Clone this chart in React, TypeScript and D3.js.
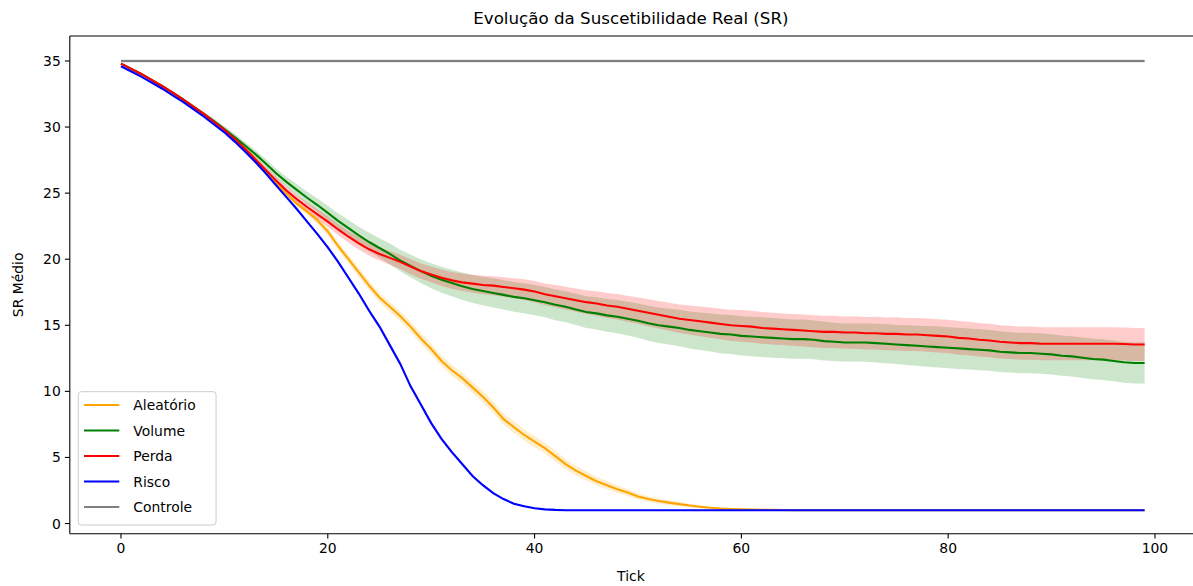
import React from 'react'
import * as d3 from 'd3'

// tick labels
const ticksX = [0, 20, 40, 60, 80, 100]
const ticksY = [0, 5, 10, 15, 20, 25, 30, 35]

const seriesNames = ['Aleatório', 'Volume', 'Perda', 'Risco', 'Controle']
const seriesColors = ['orange', 'green', 'red', 'blue', 'gray']

// mean SR per tick (0..99)
const aleatorio = [
  34.8, 34.4, 34.0, 33.55, 33.1, 32.6, 32.1, 31.55, 31.0, 30.4,
  29.8, 29.1, 28.35, 27.55, 26.7, 25.8, 24.95, 24.2, 23.6, 22.95,
  22.1, 21.0, 20.0, 19.0, 18.0, 17.1, 16.4, 15.7, 14.9, 14.0,
  13.2, 12.3, 11.6, 11.0, 10.3, 9.6, 8.8, 7.9, 7.3, 6.7,
  6.2, 5.7, 5.1, 4.5, 4.0, 3.6, 3.2, 2.9, 2.6, 2.35,
  2.05, 1.85, 1.7, 1.58, 1.47, 1.36, 1.27, 1.19, 1.13, 1.1,
  1.07, 1.05, 1.04, 1.03, 1.02, 1.01, 1.0, 1.0, 1.0, 1.0,
  1.0, 1.0, 1.0, 1.0, 1.0, 1.0, 1.0, 1.0, 1.0, 1.0,
  1.0, 1.0, 1.0, 1.0, 1.0, 1.0, 1.0, 1.0, 1.0, 1.0,
  1.0, 1.0, 1.0, 1.0, 1.0, 1.0, 1.0, 1.0, 1.0, 1.0,
]
const volume = [
  34.8, 34.4, 34.0, 33.55, 33.1, 32.6, 32.1, 31.55, 31.0, 30.45,
  29.85, 29.25, 28.6, 27.95, 27.25, 26.5, 25.85, 25.25, 24.65, 24.1,
  23.5, 22.9, 22.35, 21.8, 21.3, 20.85, 20.4, 19.9, 19.5, 19.1,
  18.75, 18.45, 18.2, 17.95, 17.75, 17.6, 17.45, 17.3, 17.15, 17.05,
  16.9, 16.75, 16.55, 16.4, 16.2, 16.0, 15.9, 15.75, 15.65, 15.5,
  15.35, 15.15, 15.0, 14.9, 14.8, 14.65, 14.55, 14.45, 14.35, 14.3,
  14.2, 14.15, 14.1, 14.05, 14.0, 13.95, 13.95, 13.9, 13.8, 13.75,
  13.7, 13.7, 13.7, 13.65, 13.6, 13.55, 13.5, 13.45, 13.4, 13.35,
  13.3, 13.25, 13.2, 13.15, 13.1, 13.0, 12.95, 12.9, 12.9, 12.85,
  12.8, 12.7, 12.65, 12.55, 12.45, 12.4, 12.3, 12.2, 12.15, 12.15,
]
const perda = [
  34.8, 34.4, 34.0, 33.55, 33.1, 32.6, 32.1, 31.55, 31.0, 30.4,
  29.8, 29.1, 28.35, 27.55, 26.75, 25.95, 25.2, 24.55, 23.95, 23.4,
  22.85, 22.25, 21.7, 21.2, 20.75, 20.4, 20.1, 19.8, 19.45, 19.1,
  18.85, 18.6, 18.4, 18.25, 18.15, 18.05, 18.0, 17.9, 17.8, 17.7,
  17.55, 17.35, 17.2, 17.05, 16.9, 16.75, 16.65, 16.5, 16.4, 16.25,
  16.1, 15.95, 15.8, 15.65, 15.5, 15.4, 15.3, 15.2, 15.1, 15.0,
  14.95, 14.9, 14.8, 14.75, 14.7, 14.65, 14.6, 14.55, 14.5, 14.5,
  14.45, 14.45, 14.4, 14.4, 14.35, 14.35, 14.3, 14.3, 14.25, 14.2,
  14.15, 14.05, 14.0, 13.9, 13.85, 13.75, 13.7, 13.65, 13.65, 13.6,
  13.6, 13.6, 13.6, 13.6, 13.6, 13.6, 13.6, 13.58, 13.55, 13.55,
]
const risco = [
  34.6, 34.2, 33.8, 33.35, 32.9, 32.4, 31.9, 31.35, 30.8, 30.2,
  29.6, 28.9, 28.15, 27.35, 26.5, 25.6, 24.7, 23.8, 22.85, 21.9,
  20.9, 19.8, 18.6, 17.4, 16.1, 14.9, 13.5, 12.1, 10.4, 9.0,
  7.6, 6.4, 5.4, 4.5, 3.6, 2.9, 2.3, 1.85, 1.5, 1.3,
  1.15, 1.07, 1.03, 1.01, 1.0, 1.0, 1.0, 1.0, 1.0, 1.0,
  1.0, 1.0, 1.0, 1.0, 1.0, 1.0, 1.0, 1.0, 1.0, 1.0,
  1.0, 1.0, 1.0, 1.0, 1.0, 1.0, 1.0, 1.0, 1.0, 1.0,
  1.0, 1.0, 1.0, 1.0, 1.0, 1.0, 1.0, 1.0, 1.0, 1.0,
  1.0, 1.0, 1.0, 1.0, 1.0, 1.0, 1.0, 1.0, 1.0, 1.0,
  1.0, 1.0, 1.0, 1.0, 1.0, 1.0, 1.0, 1.0, 1.0, 1.0,
]
const controle = [
  35, 35, 35, 35, 35, 35, 35, 35, 35, 35,
  35, 35, 35, 35, 35, 35, 35, 35, 35, 35,
  35, 35, 35, 35, 35, 35, 35, 35, 35, 35,
  35, 35, 35, 35, 35, 35, 35, 35, 35, 35,
  35, 35, 35, 35, 35, 35, 35, 35, 35, 35,
  35, 35, 35, 35, 35, 35, 35, 35, 35, 35,
  35, 35, 35, 35, 35, 35, 35, 35, 35, 35,
  35, 35, 35, 35, 35, 35, 35, 35, 35, 35,
  35, 35, 35, 35, 35, 35, 35, 35, 35, 35,
  35, 35, 35, 35, 35, 35, 35, 35, 35, 35,
]

// half width of the shaded band per tick
const aleatorioSd = [
  0.02, 0.03, 0.04, 0.05, 0.06, 0.07, 0.08, 0.09, 0.1, 0.11,
  0.12, 0.13, 0.14, 0.16, 0.18, 0.2, 0.22, 0.24, 0.26, 0.28,
  0.3, 0.32, 0.33, 0.34, 0.35, 0.36, 0.37, 0.38, 0.38, 0.39,
  0.4, 0.4, 0.41, 0.41, 0.42, 0.42, 0.43, 0.43, 0.43, 0.42,
  0.42, 0.41, 0.4, 0.39, 0.37, 0.35, 0.33, 0.31, 0.29, 0.27,
  0.25, 0.22, 0.2, 0.18, 0.16, 0.14, 0.12, 0.1, 0.08, 0.07,
  0.06, 0.05, 0.04, 0.03, 0.03, 0.02, 0.02, 0.01, 0.01, 0.01,
  0.01, 0.01, 0.01, 0.01, 0.01, 0.01, 0.01, 0.01, 0.01, 0.01,
  0.01, 0.01, 0.01, 0.01, 0.01, 0.01, 0.01, 0.01, 0.01, 0.01,
  0.01, 0.01, 0.01, 0.01, 0.01, 0.01, 0.01, 0.01, 0.01, 0.01,
]
const volumeSd = [
  0.02, 0.03, 0.04, 0.05, 0.06, 0.08, 0.1, 0.12, 0.15, 0.18,
  0.21, 0.24, 0.27, 0.3, 0.33, 0.36, 0.39, 0.42, 0.46, 0.5,
  0.54, 0.58, 0.62, 0.66, 0.7, 0.74, 0.78, 0.82, 0.86, 0.9,
  0.94, 0.98, 1.01, 1.04, 1.06, 1.08, 1.1, 1.11, 1.12, 1.13,
  1.14, 1.15, 1.16, 1.17, 1.18, 1.2, 1.22, 1.24, 1.26, 1.28,
  1.3, 1.32, 1.34, 1.36, 1.38, 1.4, 1.42, 1.44, 1.46, 1.48,
  1.48, 1.49, 1.5, 1.5, 1.5, 1.49, 1.48, 1.47, 1.46, 1.45,
  1.44, 1.44, 1.45, 1.46, 1.47, 1.48, 1.5, 1.52, 1.54, 1.55,
  1.56, 1.56, 1.55, 1.55, 1.54, 1.54, 1.53, 1.53, 1.52, 1.52,
  1.52, 1.52, 1.53, 1.53, 1.53, 1.54, 1.54, 1.55, 1.55, 1.56,
]
const perdaSd = [
  0.02, 0.03, 0.04, 0.05, 0.06, 0.07, 0.08, 0.1, 0.12, 0.14,
  0.16, 0.18, 0.2, 0.22, 0.25, 0.28, 0.3, 0.33, 0.36, 0.38,
  0.4, 0.42, 0.44, 0.46, 0.48, 0.5, 0.52, 0.54, 0.56, 0.58,
  0.6, 0.62, 0.64, 0.66, 0.68, 0.7, 0.72, 0.74, 0.76, 0.78,
  0.8, 0.82, 0.84, 0.86, 0.88, 0.9, 0.92, 0.94, 0.96, 0.98,
  1.0, 1.02, 1.04, 1.06, 1.08, 1.1, 1.12, 1.14, 1.16, 1.18,
  1.2, 1.2, 1.2, 1.2, 1.2, 1.2, 1.21, 1.21, 1.22, 1.22,
  1.22, 1.23, 1.23, 1.24, 1.24, 1.25, 1.25, 1.25, 1.26, 1.26,
  1.27, 1.27, 1.27, 1.27, 1.26, 1.26, 1.26, 1.25, 1.25, 1.25,
  1.25, 1.25, 1.25, 1.25, 1.25, 1.25, 1.25, 1.25, 1.25, 1.25,
]
const riscoSd = [
  0.03, 0.03, 0.04, 0.04, 0.05, 0.05, 0.06, 0.06, 0.07, 0.07,
  0.08, 0.08, 0.09, 0.09, 0.1, 0.1, 0.11, 0.11, 0.12, 0.12,
  0.13, 0.13, 0.14, 0.14, 0.15, 0.15, 0.15, 0.15, 0.15, 0.14,
  0.14, 0.13, 0.12, 0.11, 0.1, 0.09, 0.08, 0.07, 0.06, 0.05,
  0.04, 0.03, 0.02, 0.02, 0.01, 0.01, 0.01, 0.01, 0.01, 0.01,
  0.01, 0.01, 0.01, 0.01, 0.01, 0.01, 0.01, 0.01, 0.01, 0.01,
  0.01, 0.01, 0.01, 0.01, 0.01, 0.01, 0.01, 0.01, 0.01, 0.01,
  0.01, 0.01, 0.01, 0.01, 0.01, 0.01, 0.01, 0.01, 0.01, 0.01,
  0.01, 0.01, 0.01, 0.01, 0.01, 0.01, 0.01, 0.01, 0.01, 0.01,
  0.01, 0.01, 0.01, 0.01, 0.01, 0.01, 0.01, 0.01, 0.01, 0.01,
]
const controleSd = controle.map(() => 0.13)

const seriesMeans = [aleatorio, volume, perda, risco, controle]
const seriesSds = [aleatorioSd, volumeSd, perdaSd, riscoSd, controleSd]

const FONT = 'DejaVu Sans, sans-serif'

export default function App() {
  const W = 1193
  const H = 586
  const left = 69.8, right = 1195.8, top = 36, bottom = 533.7

  const x = d3.scaleLinear().domain([-4.95, 103.95]).range([left, right])
  const y = d3.scaleLinear().domain([-0.77, 36.89]).range([bottom, top])

  const line = d3.line<number>().x((d, i) => x(i)).y(d => y(d))

  // bands sit under every line, like matplotlib's default zorder
  return (
    <svg width={W} height={H} style={{ position: 'absolute', left: 0, top: 0, background: '#fff' }}
      fontFamily={FONT}>
      <defs>
        <clipPath id="plot">
          <rect x={left} y={top} width={right - left} height={bottom - top} />
        </clipPath>
      </defs>

      <g clipPath="url(#plot)">
        {seriesMeans.map((m, k) => {
          const sd = seriesSds[k]
          const band = d3.area<number>()
            .x((d, i) => x(i))
            .y0((d, i) => y(d - sd[i]))
            .y1((d, i) => y(d + sd[i]))
          return <path key={'band' + k} d={band(m) || ''} fill={seriesColors[k]} fillOpacity={0.2} stroke="none" />
        })}
        {seriesMeans.map((m, k) => (
          <path key={'line' + k} d={line(m) || ''} fill="none" stroke={seriesColors[k]} strokeWidth={2.1} />
        ))}
      </g>

      {/* spines */}
      <line x1={left} x2={left} y1={top} y2={bottom} stroke="#000" strokeWidth={1.1} />
      <line x1={left} x2={right} y1={bottom} y2={bottom} stroke="#000" strokeWidth={1.1} />
      <line x1={left} x2={right} y1={top} y2={top} stroke="#000" strokeWidth={1.1} />
      <line x1={right} x2={right} y1={top} y2={bottom} stroke="#000" strokeWidth={1.1} />

      {/* x axis */}
      {ticksX.map(t => (
        <g key={'x' + t}>
          <line x1={x(t)} x2={x(t)} y1={bottom} y2={bottom + 4.9} stroke="#000" strokeWidth={1.1} />
          <text x={x(t)} y={bottom + 19.5} fontSize={13.9} textAnchor="middle" fill="#000">{t}</text>
        </g>
      ))}
      {/* y axis */}
      {ticksY.map(t => (
        <g key={'y' + t}>
          <line x1={left - 4.9} x2={left} y1={y(t)} y2={y(t)} stroke="#000" strokeWidth={1.1} />
          <text x={left - 9} y={y(t) + 5} fontSize={13.9} textAnchor="end" fill="#000">{t}</text>
        </g>
      ))}

      <text x={(left + 1192) / 2} y={24} fontSize={16.7} textAnchor="middle" fill="#000">
        Evolução da Suscetibilidade Real (SR)
      </text>
      <text x={(left + 1192) / 2} y={581} fontSize={13.9} textAnchor="middle" fill="#000">Tick</text>
      <text transform={`translate(23, ${(top + bottom) / 2}) rotate(-90)`} fontSize={13.9}
        textAnchor="middle" fill="#000">SR Médio</text>

      {/* legend */}
      <g>
        <rect x={78.3} y={391.7} width={137.7} height={133.3} rx={3} fill="#fff" fillOpacity={0.8}
          stroke="#cccccc" strokeWidth={1} />
        {seriesNames.map((name, k) => {
          const cy = 405 + k * 25.5
          return (
            <g key={'leg' + name}>
              <line x1={84} x2={119.3} y1={cy} y2={cy} stroke={seriesColors[k]} strokeWidth={2.1} />
              <text x={133.3} y={cy + 5} fontSize={13.9} fill="#000">{name}</text>
            </g>
          )
        })}
      </g>
    </svg>
  )
}
